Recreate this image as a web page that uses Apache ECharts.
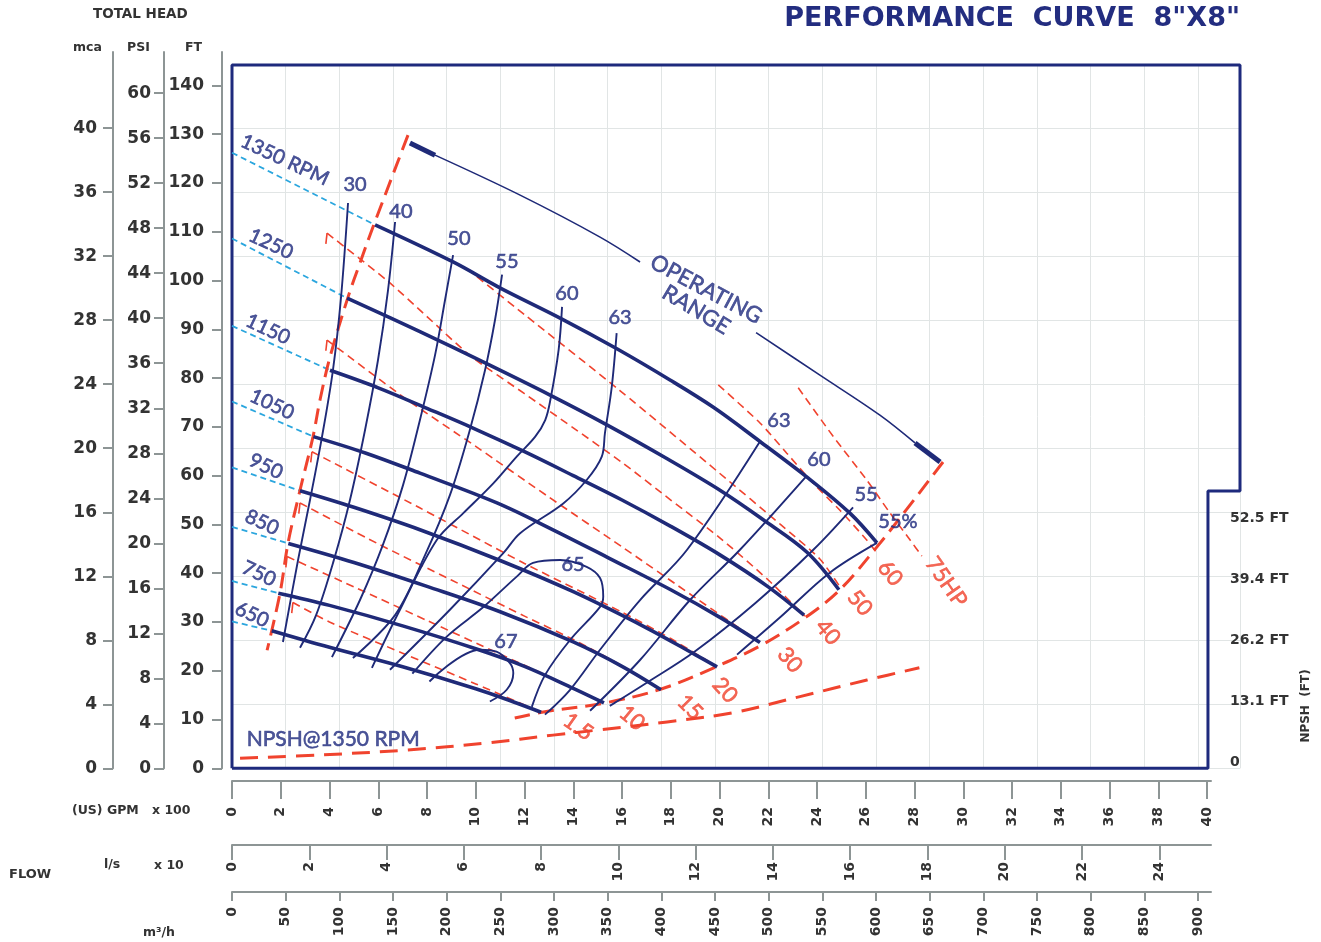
<!DOCTYPE html>
<html><head><meta charset="utf-8">
<script src="https://cdn.jsdelivr.net/npm/echarts/dist/echarts.min.js"></script>
<style>html,body{margin:0;padding:0;background:#fff}#c{width:1321px;height:942px}</style>
</head><body><div id="c"></div><script>
// ---------- DATA (flow in 100 US GPM, head in ft) ----------
const speedLabels = ['1350 RPM','1250','1150','1050','950','850','750','650'];
const shutoffHead = [126.2,108.6,90.7,75.2,61.7,49.5,38.4,30.1];
const h1350 = [[5.87,111.4],[9.07,103.8],[10.99,98.5],[13.46,92.3],[15.79,86.0],[17.97,79.6],[19.75,74.0],[21.66,67.0],[23.59,59.7],[25.35,52.3],[26.46,46.2]];
const h1250 = [[4.72,96.4],[7.71,89.5],[10.30,83.3],[13.05,76.5],[15.38,70.4],[17.8,63.6],[20.02,57.0],[21.78,51.0],[23.59,44.3],[24.90,36.6]];
const h1150 = [[4.02,81.6],[6.0,78.0],[8.0,73.8],[10.0,69.5],[12.0,64.9],[14.0,60.0],[16.0,55.0],[18.0,49.6],[20.0,43.8],[22.0,37.2],[23.47,31.4]];
const h1050 = [[3.34,68.0],[5.5,64.6],[7.71,60.5],[10.87,54.4],[13.17,48.9],[15.5,43.0],[18.0,36.6],[20.0,31.0],[21.66,25.8]];
const h950  = [[2.79,56.9],[5.0,53.5],[7.71,48.9],[11.0,42.6],[14.0,36.2],[17.0,28.8],[19.0,23.3],[19.9,20.8]];
const h850  = [[2.31,46.1],[5.0,42.2],[8.0,37.3],[11.0,32.1],[14.0,25.9],[16.0,20.9],[17.6,16.1]];
const h750  = [[1.90,35.9],[4.0,33.4],[7.0,29.2],[10.0,24.5],[12.0,20.9],[14.0,16.4],[15.26,13.4]];
const h650  = [[1.63,28.2],[4.0,24.8],[7.0,20.8],[10.0,16.3],[11.5,13.7],[12.68,11.5]];

const eff30 = [[4.76,115.9],[4.47,96.4],[4.14,81.6],[3.69,67.9],[3.2,55.0],[2.71,42.7],[2.09,25.9]];
const eff40 = [[6.69,112.0],[6.4,98.0],[5.99,83.7],[5.46,69.4],[4.84,55.0],[4.18,42.7],[3.45,31.4],[2.79,24.7]];
const eff50 = [[9.07,105.2],[8.74,96.0],[8.33,84.7],[7.71,71.4],[7.02,58.1],[6.19,45.8],[5.25,34.5],[4.1,22.8]];
const eff55 = [[11.08,101.2],[10.79,91.9],[10.38,81.6],[9.76,69.4],[8.94,56.0],[7.92,43.7],[6.69,31.4],[4.96,22.6]];
const eff60 = [[13.54,94.6],[13.4,85.8],[13.06,75.5],[12.85,71.4],[12.44,68.0],[11.68,63.9],[10.72,58.4],[9.49,52.3],[8.4,46.8],[6.89,32.5],[5.74,20.6]];
const eff63 = [[15.78,89.2],[15.58,78.2],[15.3,68.7],[15.17,63.9],[14.55,59.1],[13.59,54.3],[11.82,48.2],[11.13,44.1],[8.94,32.5],[6.48,20.2]];
const eff65 = [[7.4,19.4],[8.81,27.0],[10.3,33.0],[11.68,39.3],[12.35,42.1],[13.46,42.7],[14.55,41.3],[15.1,39.0],[15.23,35.2],[15.1,33.1],[13.87,26.3],[12.84,19.1],[12.3,12.6]];
const eff67 = [[8.1,17.8],[10.17,24.3],[10.85,23.9],[11.41,21.5],[11.54,19.5],[11.27,16.1],[10.58,13.7]];
const eff63r = [[21.66,67.0],[18.67,44.8],[16.74,34.5],[15.1,24.3],[13.87,16.1],[12.84,11.0]];
const eff60r = [[23.55,59.8],[20.84,44.8],[18.79,34.5],[16.74,22.2],[14.69,11.8]];
const eff55r = [[25.48,53.5],[23.85,44.8],[21.5,34.0],[19.0,24.0],[17.0,17.5],[15.5,12.8]];
const eff55p = [[26.46,46.2],[24.5,40.0],[22.5,31.0],[20.72,23.3]];

const hp75 = [[23.23,78.0],[24.67,68.0],[26.04,59.1],[27.0,52.3],[27.82,46.8],[28.3,43.5]];
const hp60 = [[19.95,78.6],[21.66,70.8],[22.76,64.6],[23.85,58.4],[24.94,52.9],[26.04,46.8],[26.4,44.5]];
const hp50 = [[9.64,102.4],[12.0,93.0],[15.9,77.5],[20.0,60.5],[22.5,50.0],[24.1,43.0],[24.9,37.5]];
const hp40 = [[3.9,109.7],[6.36,100.0],[8.0,92.6],[9.8,84.5],[12.0,76.8],[14.0,69.8],[16.0,62.7],[18.0,55.0],[20.0,47.3],[22.0,38.6],[23.5,31.2]];
const hp30 = [[3.9,87.8],[7.2,75.5],[10.0,66.0],[13.0,55.6],[16.0,45.4],[19.0,35.0],[21.66,25.8]];
const hp20 = [[3.28,64.9],[7.7,53.4],[12.0,42.0],[16.0,32.0],[18.0,26.6],[19.9,20.8]];
const hp15 = [[2.79,54.4],[6.0,46.0],[9.0,38.6],[12.0,31.2],[14.0,26.4],[16.0,21.0],[17.6,16.1]];
const hp10 = [[2.26,43.4],[5.0,37.2],[8.0,30.3],[11.0,23.4],[13.0,18.8],[15.26,13.4]];
const hp7  = [[2.5,34.0],[4.0,30.0],[7.0,23.6],[10.0,17.3],[12.68,11.5]];

const minFlowLine = [[7.22,129.8],[5.78,110.9],[5.25,103.6],[4.76,96.6],[4.02,84.3],[3.61,75.5],[3.32,67.9],[2.79,57.0],[2.30,46.2],[1.97,35.9],[1.44,24.2]];
const endCurveLine = [[29.17,62.8],[27.82,54.0],[26.46,45.4],[24.94,36.6],[23.55,31.0],[21.74,25.3],[19.94,21.0],[17.64,16.3],[15.3,13.4],[12.84,11.6],[11.6,10.3]];
const npsh1350 = [[0.33,2.05],[3.61,2.73],[7.18,3.75],[10.46,5.2],[13.17,6.8],[15.1,7.9],[17.85,9.5],[20.55,11.4],[23.3,14.7],[26.05,18.1],[28.2,20.6]];
const opRangeA = [[8.33,125.7],[11.82,117.5],[15.10,108.9],[16.74,103.8]];
const opRangeB = [[21.5,89.3],[24.12,80.6],[26.58,72.4],[28.02,66.7]];
const opRangeEndA = [[7.30,128.2],[8.33,125.7]];
const opRangeEndB = [[28.02,66.7],[29.05,62.8]];

const rpmLabelPos = [[2.17,124.7],[1.6,107.5],[1.48,90.0],[1.64,74.6],[1.39,61.9],[1.23,50.4],[1.11,39.9],[0.82,31.5]];
const effLabels = ['30','40','50','55','60','63','63','60','55','55%','65','67'];
const effLabelPos = [[5.05,119.6],[6.93,114.2],[9.31,108.5],[11.28,103.8],[13.74,97.4],[15.92,92.5],[22.44,71.2],[24.08,63.2],[26.01,56.2],[27.32,50.5],[13.99,41.7],[11.24,25.9]];
const hpLabels = ['75HP','60','50','40','30','20','15','10','1.5'];
const hpLabelPos = [[29.3,38.2],[27.0,40.0],[25.76,33.9],[24.45,27.9],[22.89,22.2],[20.23,16.0],[18.79,12.5],[16.41,10.3],[14.2,8.5]];
const hpLabelRot = [-55,-50,-50,-50,-50,-48,-45,-40,-35];

const ftTicks = [0,10,20,30,40,50,60,70,80,90,100,110,120,130,140];
const psiTicks = [0,4,8,12,16,20,24,28,32,36,40,44,48,52,56,60];
const mcaTicks = [0,4,8,12,16,20,24,28,32,36,40];
const gpmTicks = [0,2,4,6,8,10,12,14,16,18,20,22,24,26,28,30,32,34,36,38,40];
const lpsTicks = [0,2,4,6,8,10,12,14,16,18,20,22,24];
const m3hTicks = [0,50,100,150,200,250,300,350,400,450,500,550,600,650,700,750,800,850,900];
const npshTicks = [0,13.1,26.2,39.4,52.5];

// ---------- LAYOUT ----------
const NAVY='#1f2a78', LBL='#222d80', RED='#f0432e', CYAN='#2ba6de', GRAY='#8d9595', TXT='#333';
const X_MAX = 41.354, Y_MAX = 144.18;
const GPM_PER_M3H = 4.4029, GPM_PER_LPS = 15.850, FT_PER_M = 3.2808, FT_PER_PSI = 2.3067;
const AX_MAX = 40.16;
const LEFT_MAX_FT = 146.85;
const AXF = 'DejaVu Sans';

const chart = echarts.init(document.getElementById('c'), null, {renderer:'canvas'});

function line(data, style, extra){
  return Object.assign({type:'line', xAxisIndex:0, yAxisIndex:0, data, symbol:'none', showSymbol:false,
    silent:true, smooth:0.35, lineStyle:style, z:3}, extra||{});
}
function labels(pos, texts, style){
  const {rotArr, ...st} = style;
  return {type:'scatter', xAxisIndex:0, yAxisIndex:0, symbolSize:0, silent:true, z:10,
    label:Object.assign({show:true, position:'inside', formatter:'{b}', fontFamily:'Lato',
      textBorderColor:st.color, textBorderWidth:0.6}, st),
    data: pos.map((p,i)=>({name:texts[i], value:p, label: rotArr ? {rotate:rotArr[i]} : {}}))};
}
const thick = {color:NAVY, width:3.6};
const thin = {color:NAVY, width:1.9};
const redThin = {color:RED, width:1.6, type:[8,5]};
const redThick = {color:RED, width:3, type:[16,8]};

const series = [];
series.push(line([[0,0],[0,Y_MAX],[X_MAX,Y_MAX],[X_MAX,56.85],[40.04,56.85],[40.04,0],[0,0]],
  {color:'#1e2a7d', width:3}, {smooth:false, clip:false, z:2}));
const powerLines = [hp75,hp60,hp50,hp40,hp30,hp20,hp15,hp10,hp7];
powerLines.forEach(d=>series.push(line(d, redThin, {z:2, smooth:0.25})));
// small start hooks of the power lines that begin at the minimum-flow side
[hp40,hp30,hp20,hp15,hp10,hp7].forEach(d=>{
  const s = d[0];
  series.push(line([s, [s[0]-0.05, s[1]-2.2]], {color:RED, width:1.6}, {smooth:false, z:2}));
});
series.push(line(minFlowLine, redThick, {z:4}));
series.push(line(endCurveLine, redThick, {z:4}));
series.push(line(npsh1350, {color:RED, width:3, type:[18,10]}, {z:4}));
const curves = [h1350,h1250,h1150,h1050,h950,h850,h750,h650];
curves.forEach((c,i)=>{
  series.push(line([[0,shutoffHead[i]], c[0]], {color:CYAN, width:1.8, type:[6,4]}, {smooth:false}));
  series.push(line(c, thick, {z:5}));
});
[eff30,eff40,eff50,eff55,eff60,eff63,eff65,eff67,eff63r,eff60r,eff55r,eff55p].forEach(d=>series.push(line(d, thin, {z:4})));
series.push(line(opRangeA, {color:NAVY, width:1.6}));
series.push(line(opRangeB, {color:NAVY, width:1.6}));
series.push(line(opRangeEndA, {color:NAVY, width:5}, {smooth:false}));
series.push(line(opRangeEndB, {color:NAVY, width:5}, {smooth:false}));
series.push(labels(rpmLabelPos, speedLabels, {color:LBL, fontSize:20, rotArr:rpmLabelPos.map(()=>-25)}));
series.push(labels(effLabelPos, effLabels, {color:LBL, fontSize:20}));
series.push(labels(hpLabelPos, hpLabels, {color:RED, fontSize:22, rotArr:hpLabelRot}));
series.push(labels([[19.45,98.2],[19.04,94.0]], ['OPERATING','RANGE'], {color:LBL, fontSize:22, rotArr:[-28,-31]}));
series.push(labels([[4.15,5.9]], ['NPSH@1350 RPM'], {color:LBL, fontSize:21}));

const axisTxt = {color:TXT, fontWeight:'bold', fontFamily:AXF};
const hidden = {axisLine:{show:false}, axisTick:{show:false}, axisLabel:{show:false}, splitLine:{show:false}};
const gtxt = (t,x,y,size)=>({type:'text', left:x, top:y, style:{text:t, font:'bold '+size+'px "DejaVu Sans"', fill:TXT}});

const option = {
  animation:false,
  backgroundColor:'#fff',
  textStyle:{fontFamily:AXF},
  title:{text:'PERFORMANCE  CURVE  8"X8"', right:76, top:0,
    textStyle:{fontSize:27, fontWeight:'bold', color:'#232d80', fontFamily:AXF}},
  grid:[
    {left:232, top:65, width:1008, height:703.3},
    {left:232, top:780, width:979, height:1},
    {left:232, top:844, width:979, height:1},
    {left:232, top:891, width:979, height:1},
    {left:222, top:52, width:1, height:716.3},
    {left:164, top:52, width:1, height:716.3},
    {left:113, top:52, width:1, height:716.3},
    {left:1200, top:518, width:22, height:244}
  ],
  xAxis:[
    Object.assign({gridIndex:0, type:'value', min:0, max:X_MAX}, hidden),
    {gridIndex:0, type:'value', min:0, max:X_MAX*100/GPM_PER_M3H, interval:50, position:'top',
      axisLine:{show:false}, axisTick:{show:false}, axisLabel:{show:false},
      splitLine:{show:true, lineStyle:{color:'#e1e5e5', width:1}}},
    {gridIndex:1, type:'value', min:0, max:AX_MAX, position:'bottom',
      axisLine:{lineStyle:{color:GRAY, width:2}},
      axisTick:{length:18, customValues:gpmTicks, lineStyle:{color:GRAY, width:2}},
      axisLabel:Object.assign({customValues:gpmTicks, rotate:90, margin:26, fontSize:14}, axisTxt),
      splitLine:{show:false}},
    {gridIndex:2, type:'value', min:0, max:AX_MAX*100/GPM_PER_LPS/10, position:'bottom',
      axisLine:{lineStyle:{color:GRAY, width:2}},
      axisTick:{length:15, customValues:lpsTicks, lineStyle:{color:GRAY, width:2}},
      axisLabel:Object.assign({customValues:lpsTicks, rotate:90, margin:17, fontSize:14}, axisTxt),
      splitLine:{show:false}},
    {gridIndex:3, type:'value', min:0, max:AX_MAX*100/GPM_PER_M3H, position:'bottom',
      axisLine:{lineStyle:{color:GRAY, width:2}},
      axisTick:{length:9, customValues:m3hTicks, lineStyle:{color:GRAY, width:2}},
      axisLabel:Object.assign({customValues:m3hTicks, rotate:90, margin:15, fontSize:14}, axisTxt),
      splitLine:{show:false}},
    Object.assign({gridIndex:4, type:'value', min:0, max:1}, hidden),
    Object.assign({gridIndex:5, type:'value', min:0, max:1}, hidden),
    Object.assign({gridIndex:6, type:'value', min:0, max:1}, hidden),
    Object.assign({gridIndex:7, type:'value', min:0, max:1}, hidden)
  ],
  yAxis:[
    Object.assign({gridIndex:0, type:'value', min:0, max:Y_MAX}, hidden),
    {gridIndex:0, type:'value', min:0, max:Y_MAX/FT_PER_M, interval:4, position:'right',
      axisLine:{show:false}, axisTick:{show:false}, axisLabel:{show:false},
      splitLine:{show:true, lineStyle:{color:'#e1e5e5', width:1}}},
    Object.assign({gridIndex:1, type:'value', min:0, max:1}, hidden),
    Object.assign({gridIndex:2, type:'value', min:0, max:1}, hidden),
    Object.assign({gridIndex:3, type:'value', min:0, max:1}, hidden),
    {gridIndex:4, type:'value', min:0, max:LEFT_MAX_FT, position:'left',
      axisLine:{show:true, lineStyle:{color:GRAY, width:2}},
      axisTick:{show:true, length:10, customValues:ftTicks, lineStyle:{color:GRAY, width:2}},
      axisLabel:Object.assign({customValues:ftTicks, margin:18, fontSize:17}, axisTxt), splitLine:{show:false}},
    {gridIndex:5, type:'value', min:0, max:LEFT_MAX_FT/FT_PER_PSI, position:'left',
      axisLine:{show:true, lineStyle:{color:GRAY, width:2}},
      axisTick:{show:true, length:10, customValues:psiTicks, lineStyle:{color:GRAY, width:2}},
      axisLabel:Object.assign({customValues:psiTicks, margin:13, fontSize:17}, axisTxt), splitLine:{show:false}},
    {gridIndex:6, type:'value', min:0, max:LEFT_MAX_FT/FT_PER_M, position:'left',
      axisLine:{show:true, lineStyle:{color:GRAY, width:2}},
      axisTick:{show:true, length:10, customValues:mcaTicks, lineStyle:{color:GRAY, width:2}},
      axisLabel:Object.assign({customValues:mcaTicks, margin:16, fontSize:17}, axisTxt), splitLine:{show:false}},
    {gridIndex:7, type:'value', min:0, max:52.5, position:'right',
      axisLine:{show:false}, axisTick:{show:false}, splitLine:{show:false},
      axisLabel:Object.assign({customValues:npshTicks, margin:8, fontSize:14,
        formatter:v=> v===0 ? '0' : v.toFixed(1)+' FT'}, axisTxt)}
  ],
  graphic:[
    gtxt('TOTAL HEAD', 93, 7, 13.5),
    gtxt('mca', 73, 41, 12.5),
    gtxt('PSI', 127, 41, 12.5),
    gtxt('FT', 185, 41, 12.5),
    gtxt('(US) GPM', 72, 804, 12.5),
    gtxt('x 100', 152, 804, 12.5),
    gtxt('l/s', 104, 858, 12.5),
    gtxt('x 10', 154, 859, 12.5),
    gtxt('FLOW', 9, 868, 13),
    gtxt('m³/h', 143, 926, 12.5),
    {type:'text', x:1306, y:706, rotation:Math.PI/2,
      style:{text:'NPSH  (FT)', font:'bold 12px "DejaVu Sans"', fill:TXT, textAlign:'center', textVerticalAlign:'middle'}}
  ],
  series
};
chart.setOption(option);
</script></body></html>
